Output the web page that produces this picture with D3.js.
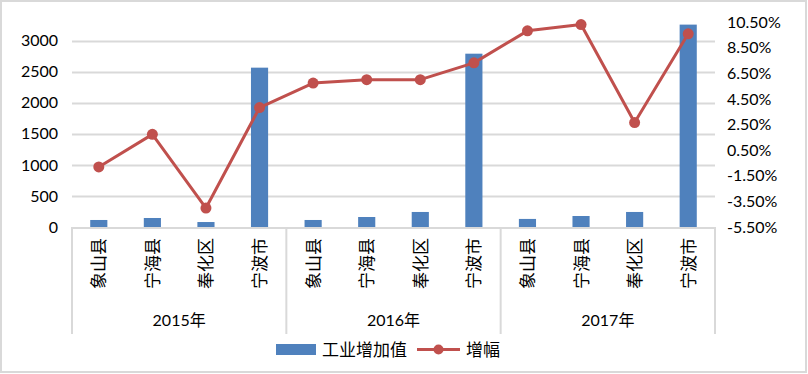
<!DOCTYPE html>
<html><head><meta charset="utf-8">
<script src="https://cdn.jsdelivr.net/npm/d3@7"></script>
<style>
body{margin:0;background:#fff;}
text{font-family:Lato,"Noto Sans CJK SC",sans-serif;fill:#000;}
.cjk{font-family:"Noto Sans CJK SC",sans-serif;}
</style></head>
<body><svg id="c" width="808" height="374"></svg>
<script>
const years = ["2015年","2016年","2017年"];
const regions = ["象山县","宁海县","奉化区","宁波市"];
const valueAdded = [113,145,80,2565, 113,161,242,2790, 130,177,242,3258];
const growth = [-0.81,1.73,-4.02,3.82, 5.73,6.0,6.0,7.31, 9.81,10.3,2.65,9.58];
const leftTicks = [0,500,1000,1500,2000,2500,3000];
const rightTicks = [-5.5,-3.5,-1.5,0.5,2.5,4.5,6.5,8.5,10.5];
const legendLabels = ["工业增加值","增幅"];

const svg = d3.select("#c");
const L=72,R=715,T=22,B=227;
const cats = [];
years.forEach((y,i)=>regions.forEach((r,j)=>cats.push({year:y,region:r,idx:i*4+j})));

const x = d3.scaleBand().domain(cats.map(d=>d.idx)).range([L,R]).paddingInner(0.68).paddingOuter(0.34);
const xc = d3.scaleBand().domain(cats.map(d=>d.idx)).range([L,R]);
const yL = d3.scaleLinear().domain([0,3300]).range([B,T]);
const yR = d3.scaleLinear().domain([-5.5,10.5]).range([B,T]);

// outer border
svg.append("rect").attr("x",1).attr("y",1).attr("width",805).attr("height",371)
  .attr("fill","none").attr("stroke","#d9d9d9").attr("stroke-width",2);

// gridlines
svg.append("g").selectAll("line").data(leftTicks.filter(d=>d>0)).join("line")
  .attr("x1",L).attr("x2",R).attr("y1",d=>Math.round(yL(d))+0.5).attr("y2",d=>Math.round(yL(d))+0.5)
  .attr("stroke","#d9d9d9").attr("stroke-width",2);

// left axis labels
const gl = svg.append("g").attr("transform",`translate(${L-14},0)`)
  .call(d3.axisLeft(yL).tickValues(leftTicks).tickSize(0).tickPadding(0).tickFormat(d3.format("d")));
gl.select(".domain").remove();
gl.selectAll("text").style("font-size","16px").style("font-family","Lato");

// right axis labels
const gr = svg.append("g").attr("transform",`translate(${R+12},0)`)
  .call(d3.axisRight(yR).tickValues(rightTicks).tickSize(0).tickPadding(0).tickFormat(d=>d.toFixed(2)+"%"));
gr.select(".domain").remove();
gr.selectAll("text").style("font-size","16px").style("font-family","Lato");

// bars
svg.append("g").selectAll("rect").data(cats).join("rect")
  .attr("x",d=>x(d.idx)).attr("width",x.bandwidth())
  .attr("y",d=>yL(valueAdded[d.idx])).attr("height",d=>B-yL(valueAdded[d.idx]))
  .attr("fill","#4f81bd");

// x axis line and group separators
svg.append("line").attr("x1",L).attr("x2",R).attr("y1",B+1).attr("y2",B+1).attr("stroke","#d9d9d9").attr("stroke-width",2);
const seps = [0,4,8].map(i=>xc(i)).concat([R]);
svg.append("g").selectAll("line").data(seps).join("line")
  .attr("x1",d=>d).attr("x2",d=>d).attr("y1",B).attr("y2",334)
  .attr("stroke","#d9d9d9").attr("stroke-width",2);

// category labels
svg.append("g").selectAll("text").data(cats).join("text")
  .attr("class","cjk")
  .attr("transform",d=>`translate(${xc(d.idx)+xc.bandwidth()/2+6.5},238) rotate(-90)`)
  .attr("text-anchor","end").style("font-size","17px").text(d=>d.region);

// year labels
svg.append("g").selectAll("text").data(years).join("text")
  .attr("x",(d,i)=>(xc(i*4)+xc(i*4+3)+xc.bandwidth())/2).attr("y",326)
  .attr("text-anchor","middle").style("font-size","16px")
  .style("font-family","Lato,'Noto Sans CJK SC'").text(d=>d);

// line
const line = d3.line().x(d=>xc(d.idx)+xc.bandwidth()/2).y(d=>yR(growth[d.idx]));
svg.append("path").datum(cats).attr("d",line).attr("fill","none")
  .attr("stroke","#c0504d").attr("stroke-width",3).attr("stroke-linejoin","round");
svg.append("g").selectAll("circle").data(cats).join("circle")
  .attr("cx",d=>xc(d.idx)+xc.bandwidth()/2).attr("cy",d=>yR(growth[d.idx])).attr("r",5.5)
  .attr("fill","#c0504d");

// legend
const lg = svg.append("g");
lg.append("rect").attr("x",276).attr("y",344).attr("width",40).attr("height",11).attr("fill","#4f81bd");
lg.append("text").attr("class","cjk").attr("x",322).attr("y",356).style("font-size","17px").text(legendLabels[0]);
lg.append("line").attr("x1",417).attr("x2",460).attr("y1",349.5).attr("y2",349.5).attr("stroke","#c0504d").attr("stroke-width",3);
lg.append("circle").attr("cx",438.5).attr("cy",349.5).attr("r",5).attr("fill","#c0504d");
lg.append("text").attr("class","cjk").attr("x",466).attr("y",356).style("font-size","17px").text(legendLabels[1]);
</script></body></html>
